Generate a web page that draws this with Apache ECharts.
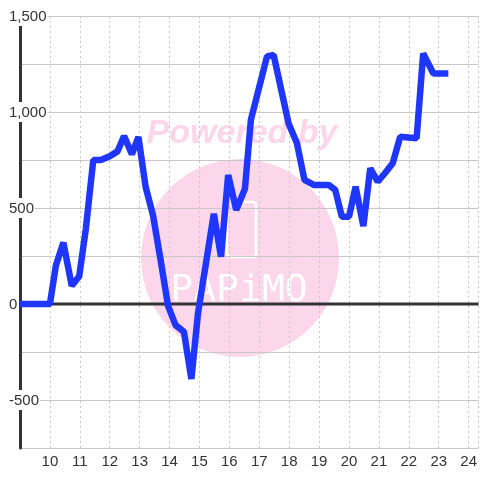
<!DOCTYPE html>
<html>
<head>
<meta charset="utf-8">
<script src="https://cdn.jsdelivr.net/npm/echarts@6/dist/echarts.min.js"></script>
<style>
  html, body { margin: 0; padding: 0; background: #fff; }
  #chart { width: 480px; height: 480px; }
</style>
</head>
<body>
<div id="chart"></div>
<script>
// 折线数据
const xValues = [9, 10, 10.2, 10.45, 10.73, 10.98, 11.2, 11.45, 11.7, 12.0,
  12.26, 12.48, 12.74, 12.96, 13.2, 13.45, 13.7, 13.95, 14.2, 14.48,
  14.73, 14.95, 15.48, 15.72, 15.96, 16.23, 16.52, 16.72, 17.26, 17.48,
  17.98, 18.26, 18.51, 18.82, 19.32, 19.54, 19.76, 20.0, 20.22, 20.48,
  20.71, 20.96, 21.2, 21.46, 21.71, 22.26, 22.48, 22.82, 23.32];
const yValues = [0, 0, 200, 320, 95, 145, 390, 750, 750, 770,
  795, 875, 780, 870, 610, 460, 230, -10, -110, -145,
  -390, -50, 470, 246, 672, 490, 600, 960, 1290, 1297,
  940, 837, 646, 620, 620, 594, 455, 455, 611, 405,
  707, 637, 681, 733, 871, 863, 1305, 1201, 1201];

// 零线
const zeroLine = [[9, 0], [24.33, 0]];

const xMin = 9, xMax = 24.33;
const yMin = -750, yMax = 1500;
const labelStep = 500;

const chart = echarts.init(document.getElementById("chart"));

const option = {
  animation: false,
  grid: { left: 20, right: 0, top: 16, bottom: 32 },
  // 水印
  graphic: [
    {
      type: "circle",
      z: -1,
      shape: { cx: 240, cy: 258, r: 99 },
      style: { fill: "#fcd6ea" },
    },
    {
      type: "text",
      z: -1,
      x: 242,
      y: 134,
      style: {
        text: "Powered by",
        fill: "#fcd6ea",
        font: "italic bold 34px 'Liberation Sans', sans-serif",
        align: "center",
        verticalAlign: "middle",
      },
    },
    {
      type: "rect",
      z: -1,
      shape: { x: 227, y: 202, width: 29, height: 55, r: 3 },
      style: { fill: "none", stroke: "#fff", lineWidth: 2.5 },
    },
    {
      type: "text",
      z: -1,
      x: 239,
      y: 291,
      style: {
        text: "PAPiMO",
        fill: "#fff",
        font: "38px 'DejaVu Sans Mono', monospace",
        align: "center",
        verticalAlign: "middle",
      },
    },
  ],
  xAxis: {
    type: "value",
    min: xMin,
    max: xMax,
    interval: 1,
    axisLine: { show: false },
    axisTick: { show: false },
    axisLabel: {
      color: "#333",
      fontSize: 15,
      margin: 6,
      formatter: (v) => (v === xMin ? "" : String(v)),
    },
    splitLine: {
      show: true,
      lineStyle: { color: "#c8c8c8", type: [2, 3], width: 1 },
    },
  },
  yAxis: {
    type: "value",
    min: yMin,
    max: yMax,
    interval: 250,
    axisLine: { show: true, lineStyle: { color: "#333", width: 3 } },
    axisTick: { show: false },
    axisLabel: {
      align: "left",
      margin: 12,
      formatter: (v) =>
        v % labelStep === 0 ? "{b|" + v.toLocaleString("en-US") + "}" : "",
      rich: {
        b: {
          color: "#333",
          fontSize: 15,
          backgroundColor: "#fff",
          padding: [3, 1, 2, 1],
        },
      },
    },
    splitLine: { lineStyle: { color: "#c8c8c8", width: 1 } },
  },
  series: [
    {
      type: "line",
      z: 1,
      data: zeroLine,
      showSymbol: false,
      silent: true,
      lineStyle: { color: "#333", width: 3 },
    },
    {
      type: "line",
      z: 3,
      data: xValues.map((x, i) => [x, yValues[i]]),
      showSymbol: false,
      lineStyle: { color: "#1f36ff", width: 6.5 },
    },
  ],
};

chart.setOption(option);
</script>
</body>
</html>
